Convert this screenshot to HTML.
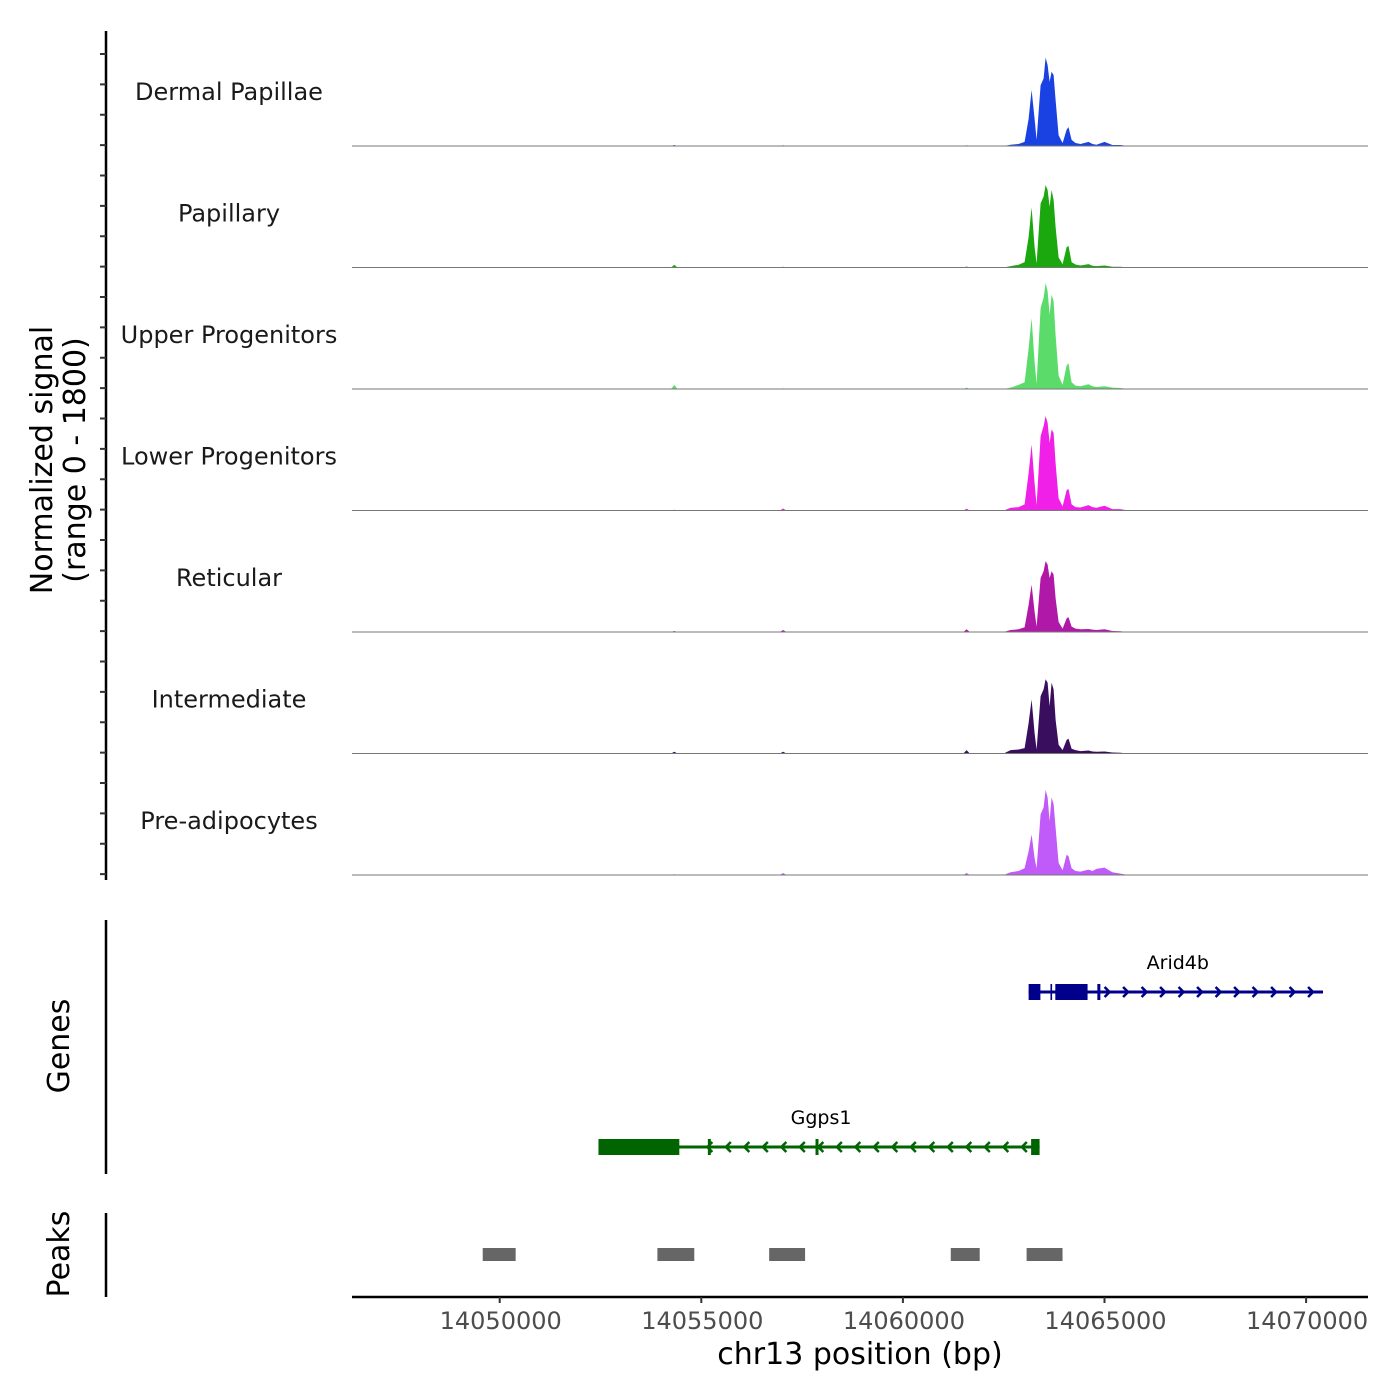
<!DOCTYPE html>
<html><head><meta charset="utf-8"><style>
html,body{margin:0;padding:0;background:#fff;}
svg{display:block;font-family:"DejaVu Sans","Liberation Sans",sans-serif;}
</style></head><body>
<svg id="chart" width="1400" height="1400" viewBox="0 0 1400 1400" xmlns="http://www.w3.org/2000/svg"></svg>
<script>
const trackNames = ["Dermal Papillae","Papillary","Upper Progenitors","Lower Progenitors","Reticular","Intermediate","Pre-adipocytes"];
const trackColors = ["#1a41e2","#1aa80e","#5bdc6a","#f020e8","#b018a8","#3a0e5e","#c05af8"];
const positions = [14046337,14054250,14054330,14054410,14056950,14057030,14057110,14061500,14061580,14061660,14062500,14062672,14062870,14063019,14063118,14063192,14063267,14063316,14063415,14063489,14063539,14063588,14063638,14063687,14063737,14063786,14063861,14063960,14064059,14064108,14064183,14064281,14064405,14064603,14064702,14064801,14064999,14065197,14065395,14065593,14071535];
const signalDermal = [0,0,15,0,0,10,0,0,10,0,0,20,30,60,400,830,400,90,900,1000,1310,1200,950,1100,1050,680,160,45,240,280,90,45,30,60,30,20,60,15,15,0,0];
const signalPapillary = [0,0,40,0,0,10,0,0,15,0,0,20,40,80,450,890,300,60,950,1050,1220,1150,900,1150,1000,600,150,50,300,320,80,45,30,50,25,20,30,10,10,0,0];
const signalUpper = [0,0,60,0,0,10,0,0,20,0,0,20,60,100,600,1050,400,80,1200,1350,1570,1450,1100,1400,1300,800,200,60,350,380,100,50,40,70,40,30,40,20,15,0,0];
const signalLower = [0,0,10,0,0,30,0,0,25,0,0,40,50,90,550,980,400,80,1100,1250,1400,1300,1000,1200,1150,700,180,60,300,320,90,50,45,80,50,40,70,20,20,0,0];
const signalReticular = [0,0,15,0,0,30,0,0,40,0,0,30,40,70,400,700,300,80,800,900,1050,1000,800,900,850,500,150,50,200,220,80,50,40,45,35,30,40,15,10,0,0];
const signalIntermediate = [0,0,25,0,0,25,0,0,50,0,0,50,60,80,450,800,300,60,850,950,1100,1050,700,1050,950,500,130,50,200,220,70,50,35,45,30,25,30,15,10,0,0];
const signalPreadipo = [0,0,10,0,0,30,0,0,30,0,0,40,60,100,350,600,250,100,900,1000,1260,1150,800,1150,1050,700,180,70,300,280,100,60,50,80,60,90,110,40,20,0,0];
const allSignals = [signalDermal,signalPapillary,signalUpper,signalLower,signalReticular,signalIntermediate,signalPreadipo];
const xTicks = [14050000,14055000,14060000,14065000,14070000];
const peakStarts = [14049579,14053911,14056683,14061187,14063068];
const peakEnds = [14050396,14054826,14057574,14061905,14063959];
const geneNames = ["Arid4b","Ggps1"];
const geneStarts = [14063118,14052450];
const geneEnds = [14070419,14063390];
const geneStrands = ["+","-"];
const arid4bExonStarts = [14063118,14063660,14063780];
const arid4bExonEnds = [14063410,14063700,14064580];
const ggps1ExonStarts = [14052450,14063180];
const ggps1ExonEnds = [14054455,14063390];
const ggps1Marks = [14055200,14057870];
const arid4bMarks = [14064860];
const yMax = 1800;

const NS="http://www.w3.org/2000/svg";
const svg=document.getElementById('chart');
const X0=352,X1=1368,D0=14046337,D1=14071535;
function xs(p){return X0+(p-D0)/(D1-D0)*(X1-X0);}
const trackH=121.5, firstBase=146;
function ys(v,i){return firstBase+i*trackH - v/yMax*trackH;}
function mk(tag,attrs,parent){const e=document.createElementNS(NS,tag);for(const k in attrs)e.setAttribute(k,attrs[k]);(parent||svg).appendChild(e);return e;}

let ax=mk('line',{x1:106,y1:31,x2:106,y2:880,stroke:'#000','stroke-width':2.5});


for(let i=0;i<28;i++){const y=54+i*(trackH/4);
 let t=mk('line',{x1:100,y1:y,x2:106,y2:y,stroke:'#333','stroke-width':2});
 
 }
let yt=mk('text',{x:0,y:0,'font-size':30,'text-anchor':'middle',fill:'#000',transform:'translate(52,460) rotate(-90)'});


mk('tspan',{x:0,y:0},yt).textContent='Normalized signal';
mk('tspan',{x:0,y:33},yt).textContent='(range 0 - 1800)';

allSignals.forEach((vals,i)=>{
 const base=firstBase+i*trackH;
 let d='M'+xs(positions[0])+','+base;
 positions.forEach((p,j)=>{d+=' L'+xs(p).toFixed(1)+','+ys(vals[j],i).toFixed(1);});
 d+=' L'+xs(positions[positions.length-1])+','+base+'Z';
 let a=mk('path',{d:d,fill:trackColors[i]});
 
 
 let bl=mk('line',{x1:X0,y1:base,x2:X1,y2:base,stroke:'#777','stroke-width':1});
 
 
 let lb=mk('text',{x:229,y:base-46,'font-size':24,'text-anchor':'middle',fill:'#1a1a1a'});
 lb.textContent=trackNames[i];
 
 
});

let ga=mk('line',{x1:106,y1:920,x2:106,y2:1174,stroke:'#000','stroke-width':2.5});


let gt=mk('text',{x:0,y:0,'font-size':30,'text-anchor':'middle',transform:'translate(69,1046) rotate(-90)'});
gt.textContent='Genes';


const geneY=[992,1147], geneCol=["#00008b","#006400"];
const exS=[arid4bExonStarts,ggps1ExonStarts], exE=[arid4bExonEnds,ggps1ExonEnds], marks=[arid4bMarks,ggps1Marks];
geneNames.forEach((g,i)=>{
 const y=geneY[i],c=geneCol[i],x1=xs(geneStarts[i]),x2=xs(geneEnds[i]);
 const grp=mk('g',{});
 
 
 mk('line',{x1:x1,y1:y,x2:x2,y2:y,stroke:c,'stroke-width':3},grp);
 exS[i].forEach((s,k)=>{mk('rect',{x:xs(s),y:y-8,width:xs(exE[i][k])-xs(s),height:16,fill:c},grp);});
 marks[i].forEach(m=>{mk('line',{x1:xs(m),y1:y-8,x2:xs(m),y2:y+8,stroke:c,'stroke-width':3},grp);});
 const dir=geneStrands[i]==='+'?1:-1;
 const aS=i===0?xs(arid4bExonEnds[2])+20:xs(ggps1ExonEnds[0])+30;
 const aE=i===0?x2:xs(ggps1ExonStarts[1]);
 for(let x=aS;x<=aE;x+=18.5){mk('polyline',{points:`${x-3*dir},${y-5} ${x+2*dir},${y} ${x-3*dir},${y+5}`,fill:'none',stroke:c,'stroke-width':2.5},grp);}
 let lt=mk('text',{x:(x1+x2)/2+2,y:y-23,'font-size':19,'text-anchor':'middle',fill:'#000'});
 lt.textContent=g;
 
 
});

let pa=mk('line',{x1:106,y1:1213,x2:106,y2:1297,stroke:'#000','stroke-width':2.5});


let pt=mk('text',{x:0,y:0,'font-size':30,'text-anchor':'middle',transform:'translate(69,1254) rotate(-90)'});
pt.textContent='Peaks';


peakStarts.forEach((s,i)=>{
 let r=mk('rect',{x:xs(s),y:1248,width:xs(peakEnds[i])-xs(s),height:13,fill:'#666'});
 
 
});

let xa=mk('line',{x1:X0,y1:1297,x2:X1,y2:1297,stroke:'#000','stroke-width':2.5});


xTicks.forEach(t=>{
 mk('line',{x1:xs(t),y1:1297,x2:xs(t),y2:1303,stroke:'#333','stroke-width':2});
 let l=mk('text',{x:xs(t)+1,y:1329,'font-size':24,'text-anchor':'middle',fill:'#4d4d4d'});
 l.textContent=String(t);
 
 
});
let xt=mk('text',{x:860,y:1364,'font-size':30,'text-anchor':'middle',fill:'#000'});
xt.textContent='chr13 position (bp)';


</script>
</body></html>
